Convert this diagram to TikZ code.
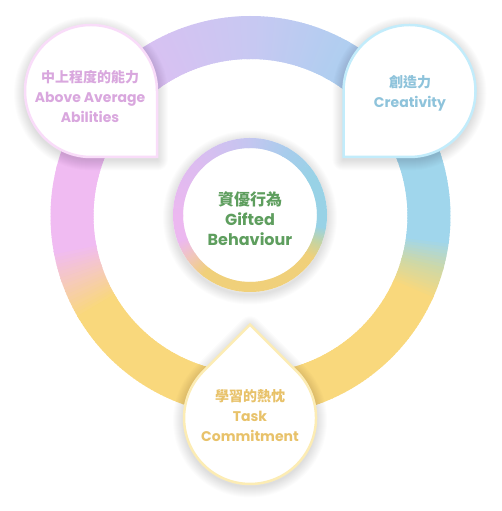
\documentclass[tikz,border=0pt]{standalone}
\usepackage{fontspec}
\setmainfont{Poppins}
\newfontfamily\cjk{Noto Sans CJK TC}
\definecolor{rb}{HTML}{A0D6EC}
\definecolor{rbl}{HTML}{B0CEF0}
\definecolor{rlv}{HTML}{C8C8F2}
\definecolor{rpu}{HTML}{DAC0F2}
\definecolor{rpk}{HTML}{F0BBF2}
\definecolor{rpe}{HTML}{F5C8C4}
\definecolor{ry}{HTML}{F9D87C}
\definecolor{rgr}{HTML}{CDD8A8}
\definecolor{cb}{HTML}{98D2E6}
\definecolor{cgr}{HTML}{C4D4A4}
\definecolor{cy}{HTML}{F0D07A}
\definecolor{cpe}{HTML}{F0C6BC}
\definecolor{cpk}{HTML}{ECB8F0}
\definecolor{cpu}{HTML}{DCBCF0}
\definecolor{clv}{HTML}{C4C6F0}
\definecolor{cbl}{HTML}{A8CCEC}
\definecolor{tlpink}{HTML}{D9A7DE}
\definecolor{trblue}{HTML}{8EC3DB}
\definecolor{cgreen}{HTML}{5E9E5E}
\definecolor{byellow}{HTML}{E8C26A}
\definecolor{tlborder}{HTML}{F9DCF9}
\definecolor{trborder}{HTML}{C2ECFB}
\definecolor{bborder}{HTML}{FCECB4}
\newcommand\gradring[4]{% cx, cy, radius, width ; stops via \ringstops
  \foreach \sa/\sb/\ca/\cbb in \ringstops {
    \pgfmathtruncatemacro\nn{\sb-\sa}
    \foreach \k in {0,...,\nn} {
      \pgfmathtruncatemacro\pp{100-100*\k/\nn}
      \pgfmathsetmacro\ang{\sa+\k}
      \draw[line width=#4, color=\ca!\pp!\cbb] (#1,#2) ++(\ang:#3)
        arc[start angle=\ang, end angle=\ang+1.4, radius=#3];
    }
  }
}
\newcommand\dropTL[1]{\path[#1] (157,420) arc[start angle=0, end angle=270, radius=66] -- (157,354) -- cycle;}
\newcommand\dropTR[1]{\path[#1] (343.5,420) arc[start angle=180, end angle=-90, radius=66] -- (343.5,354) -- cycle;}
\newcommand\dropB[1]{\path[#1] (250,186.3) -- (296.7,139.7) arc[start angle=45, end angle=-225, radius=66] -- cycle;}
\tikzset{
  shadowlayer/.style={draw=black, draw opacity=0.011, line width=#1, line join=round, yshift=-2.5pt},
  lbl/.style={align=center, font=\bfseries\fontsize{14}{20}\selectfont},
  clbl/.style={align=center, font=\bfseries\fontsize{16}{20}\selectfont}
}
\begin{document}
\begin{tikzpicture}[x=1pt,y=1pt]
\useasboundingbox (0,0) rectangle (501,511);
% big ring
\def\ringstops{0/20/rb/rb,20/60/rb/rbl,60/90/rbl/rlv,90/125/rlv/rpu,125/165/rpu/rpk,165/190/rpk/rpk,190/198/rpk/rpe,198/210/rpe/ry,210/335/ry/ry,335/344/ry/rgr,344/352/rgr/rb,352/359/rb/rb}
\gradring{250.5}{295}{178.5}{43}
% center circle shadow
\foreach \w in {2,4,...,20} {
  \draw[shadowlayer=\w] (250,296) circle[radius=77];
}
\fill[white] (250,296) circle[radius=77];
\def\ringstops{0/30/cb/cb,30/60/cb/cbl,60/90/cbl/clv,90/135/clv/cpu,135/180/cpu/cpk,180/200/cpk/cpk,200/215/cpk/cpe,215/232/cpe/cy,232/325/cy/cy,325/338/cy/cgr,338/350/cgr/cb,350/359/cb/cb}
\gradring{250}{296}{72}{10}
% drops shadows
\foreach \w in {2,4,...,22} {
  \dropTL{shadowlayer=\w}
  \dropTR{shadowlayer=\w}
  \dropB{shadowlayer=\w}
}
\dropTL{fill=white, draw=tlborder, line width=2.5}
\dropTR{fill=white, draw=trborder, line width=2.5}
\dropB{fill=white, draw=bborder, line width=2.5}
% labels
\node[lbl, text=tlpink] (abil) at (90,414) {{\cjk 中上程度的能力}\\Above Average\\Abilities};
\node[lbl, text=trblue] (crea) at (410,418) {{\cjk 創造力}\\Creativity};
\node[clbl, text=cgreen] (gift) at (250,292) {{\cjk 資優行為}\\Gifted\\Behaviour};
\node[lbl, text=byellow] (task) at (250,95) {{\cjk 學習的熱忱}\\Task\\Commitment};
\end{tikzpicture}
\end{document}
